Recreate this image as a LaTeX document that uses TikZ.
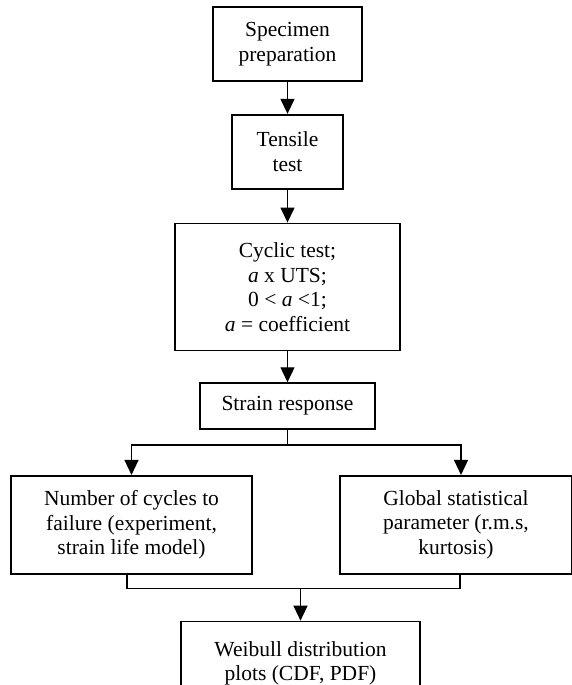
\documentclass[tikz,border=0pt]{standalone}
\usepackage{fontspec}
\setmainfont{Liberation Serif}
\usetikzlibrary{positioning, arrows.meta}

\begin{document}
\begin{tikzpicture}[>={Triangle[width=14pt,length=15pt]}, line width=1.3pt,
  font=\fontsize{21.5}{24.5}\selectfont, align=center,
  box/.style={draw, line width=1.7pt, inner sep=2pt}]
  \useasboundingbox (0,0) rectangle (572pt,-685pt);

  \node[box, minimum width=149pt, minimum height=74pt] (spec) at (287.5pt,-44pt) {Specimen\\preparation};
  \node[box, below=32pt of spec, minimum width=111pt, minimum height=74pt] (tens) {Tensile\\test};
  \node[box, below=33pt of tens, minimum width=225pt, minimum height=127pt] (cyc)
    {Cyclic test;\\\textit{a} x UTS;\\0 < \textit{a} <1;\\\textit{a} = coefficient};
  \node[box, below=31pt of cyc, minimum width=175pt, minimum height=46pt] (strain) {Strain response};

  \node[box, below=45pt of strain, xshift=-156pt, minimum width=241pt, minimum height=98pt] (cycles)
    {Number of cycles to\\failure (experiment,\\strain life model)};
  \node[box, below=45pt of strain, xshift=168.5pt, minimum width=232pt, minimum height=98pt] (glob)
    {Global statistical\\parameter (r.m.s,\\kurtosis)};
  \node[box, below=46pt of cycles, xshift=169pt, minimum width=239pt, minimum height=84pt] (weib)
    {Weibull distribution\\plots (CDF, PDF)};

  \coordinate[below=15pt of strain] (split);
  \coordinate[above=32pt of weib] (merge);

  \draw[->] (spec) -- (tens);
  \draw[->] (tens) -- (cyc);
  \draw[->] (cyc) -- (strain);
  \draw (strain) -- (split);
  \draw[->] (split) -| (cycles);
  \draw[->] (split) -| ([xshift=5pt]glob.north);
  \draw ([xshift=-4.5pt]cycles.south) |- (merge) -| ([xshift=4pt]glob.south);
  \draw[->] (merge) -- (weib);
\end{tikzpicture}
\end{document}
